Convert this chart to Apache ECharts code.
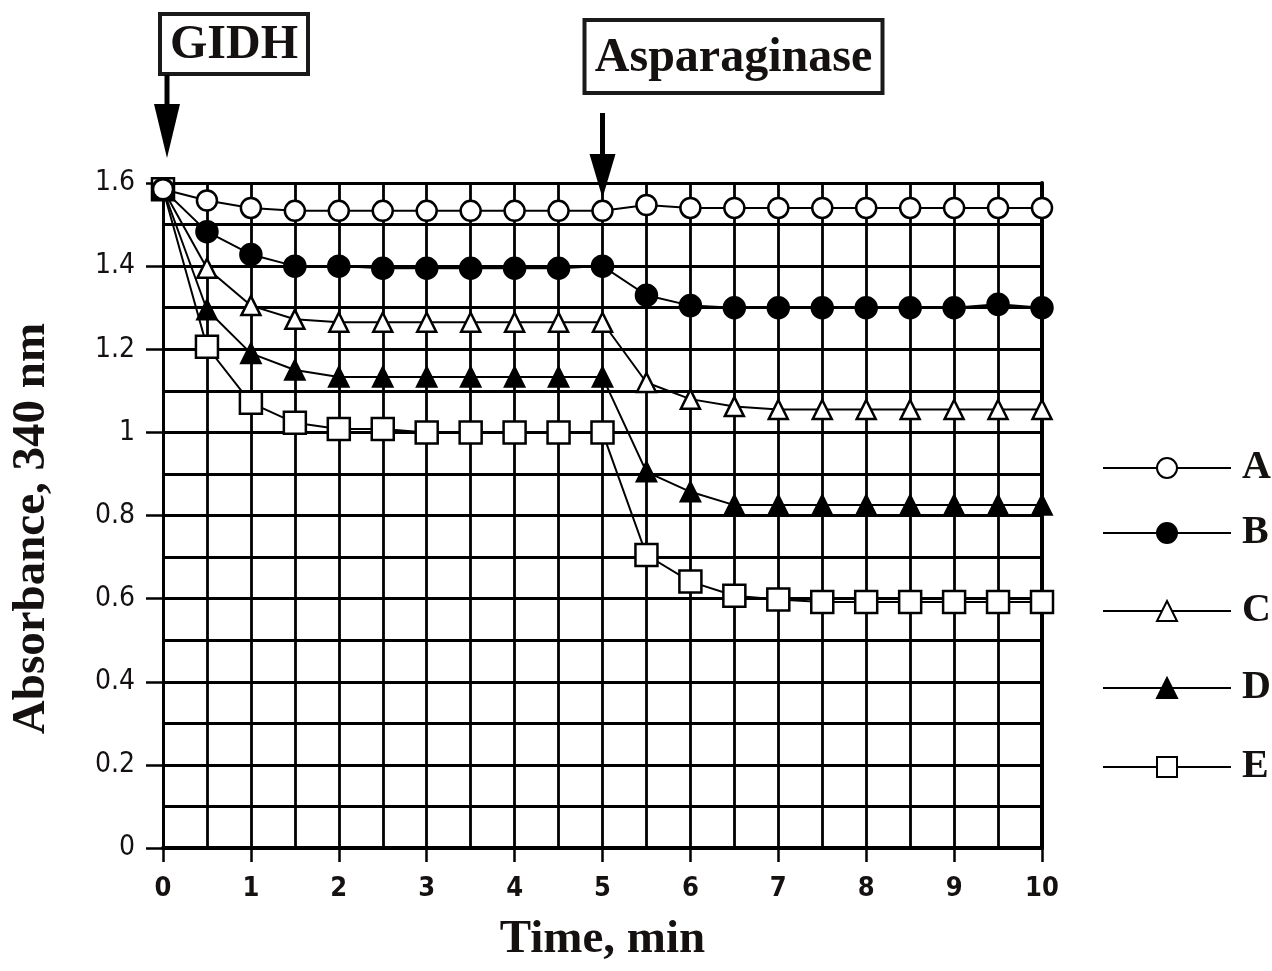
<!DOCTYPE html>
<html>
<head>
<meta charset="utf-8">
<script src="https://cdn.jsdelivr.net/npm/echarts@6/dist/echarts.min.js"></script>
<style>
  html, body { margin: 0; padding: 0; background: #fff; }
  #chart { width: 1272px; height: 971px; }
</style>
</head>
<body>
<div id="chart"></div>
<script>
// time points (min)
const time = [0, 0.5, 1, 1.5, 2, 2.5, 3, 3.5, 4, 4.5, 5, 5.5, 6, 6.5, 7, 7.5, 8, 8.5, 9, 9.5, 10];

// absorbance at 340 nm
const seriesA = [1.585, 1.558, 1.54, 1.533, 1.533, 1.533, 1.533, 1.533, 1.533, 1.533, 1.533, 1.547, 1.54, 1.54, 1.54, 1.54, 1.54, 1.54, 1.54, 1.54, 1.54];
const seriesB = [1.585, 1.483, 1.428, 1.4, 1.4, 1.395, 1.395, 1.395, 1.395, 1.395, 1.4, 1.33, 1.305, 1.3, 1.3, 1.3, 1.3, 1.3, 1.3, 1.308, 1.3];
const seriesC = [1.585, 1.395, 1.305, 1.272, 1.265, 1.265, 1.265, 1.265, 1.265, 1.265, 1.265, 1.12, 1.08, 1.062, 1.055, 1.055, 1.055, 1.055, 1.055, 1.055, 1.055];
const seriesD = [1.585, 1.295, 1.19, 1.15, 1.133, 1.133, 1.133, 1.133, 1.133, 1.133, 1.133, 0.905, 0.857, 0.825, 0.825, 0.825, 0.825, 0.825, 0.825, 0.825, 0.825];
const seriesE = [1.585, 1.206, 1.071, 1.023, 1.008, 1.008, 1.0, 1.0, 1.0, 1.0, 1.0, 0.705, 0.641, 0.607, 0.598, 0.592, 0.592, 0.592, 0.592, 0.592, 0.592];

const seriesNames = ["A", "B", "C", "D", "E"];
const addTimes = [0, 5]; // GIDH, Asparaginase

const serif = "'Liberation Serif', 'Times New Roman', serif";
const narrow = "'DejaVu Sans Condensed', 'Liberation Sans Narrow', 'DejaVu Sans', sans-serif";
const ink = "#141110";
const gridLine = { color: "#000", width: 2.8 };

const chart = echarts.init(document.getElementById("chart"));

const pairs = (ys) => time.map((t, i) => [t, ys[i]]);

const styles = {
  A: { symbol: "circle", size: 20, fill: "#fff", z: 7 },
  B: { symbol: "circle", size: 21, fill: "#000", z: 6 },
  C: { symbol: "triangle", size: 19, fill: "#fff", z: 5 },
  D: { symbol: "triangle", size: 19, fill: "#000", z: 4 },
  E: { symbol: "rect", size: 22, fill: "#fff", z: 3 },
};
const values = { A: seriesA, B: seriesB, C: seriesC, D: seriesD, E: seriesE };

// legend rows on the right (centre y of each row)
const legendRows = [462, 527, 605, 682, 761];

chart.setOption({
  animation: false,
  backgroundColor: "#fff",
  grid: { left: 162, right: 230, top: 183, bottom: 123 },
  xAxis: {
    type: "value",
    min: 0,
    max: 10,
    interval: 1,
    name: "Time, min",
    nameLocation: "middle",
    nameGap: 68,
    nameTextStyle: { fontFamily: serif, fontWeight: "bold", fontSize: 47, color: ink },
    axisLine: { show: true, onZero: false, lineStyle: { color: "#000", width: 4 } },
    axisTick: { show: true, length: 14, lineStyle: { color: "#000", width: 2.5 } },
    axisLabel: { margin: 27, fontFamily: narrow, fontWeight: "bold", fontSize: 27, color: ink },
    splitLine: { show: true, lineStyle: gridLine },
    minorTick: { show: false, splitNumber: 2 },
    minorSplitLine: { show: true, lineStyle: gridLine },
  },
  yAxis: [
    {
      type: "value",
      min: 0,
      max: 1.6,
      interval: 0.2,
      name: "Absorbance, 340 nm",
      nameLocation: "middle",
      nameGap: 108,
      nameTextStyle: {
        fontFamily: serif, fontWeight: "bold", fontSize: 47, color: ink,
        padding: [0, 26, 0, 0],
      },
      axisLine: { show: true, lineStyle: { color: "#000", width: 2.8 } },
      axisTick: { show: true, length: 17, lineStyle: { color: "#000", width: 2.5 } },
      axisLabel: { margin: 28, fontFamily: narrow, fontSize: 28, color: ink },
      splitLine: { show: true, lineStyle: gridLine },
      minorTick: { show: false, splitNumber: 2 },
      minorSplitLine: { show: true, lineStyle: gridLine },
    },
    {
      type: "value",
      min: 0,
      max: 1.6,
      position: "right",
      axisLine: { show: true, lineStyle: { color: "#000", width: 4 } },
      axisTick: { show: false },
      axisLabel: { show: false },
      splitLine: { show: false },
    },
  ],
  legend: seriesNames.map((n, i) => ({
    data: [n],
    left: 1097,
    top: legendRows[i] - 19,
    itemWidth: 128,
    itemHeight: 25,
    selectedMode: false,
    textStyle: {
      fontFamily: serif,
      fontWeight: "bold",
      fontSize: 40,
      lineHeight: 38,
      color: ink,
      padding: [0, 0, 0, 6],
    },
  })),
  series: seriesNames.map((n) => ({
    name: n,
    type: "line",
    data: pairs(values[n]),
    z: styles[n].z,
    symbol: styles[n].symbol,
    symbolSize: styles[n].size,
    showAllSymbol: true,
    lineStyle: { color: "#000", width: 2 },
    itemStyle: { color: styles[n].fill, borderColor: "#000", borderWidth: 2.5, opacity: 1 },
    emphasis: { disabled: true },
  })),
});

// annotation boxes and arrows, placed from the axis scale
const arrowX = addTimes.map((t) => chart.convertToPixel({ xAxisIndex: 0 }, t));
const arrow = (x, y0, y1, y2) => [
  { type: "rect", shape: { x: x - 2.5, y: y0, width: 5, height: y1 - y0 + 2 }, style: { fill: "#000" } },
  { type: "polygon", shape: { points: [[x - 13, y1], [x + 13, y1], [x, y2]] }, style: { fill: "#000" } },
];
const labelBox = (x, y, w, h, text) => [
  { type: "rect", shape: { x: x, y: y, width: w, height: h }, style: { fill: "#fff", stroke: "#1a1a1a", lineWidth: 4 } },
  {
    type: "text",
    x: x + w / 2,
    y: y + h / 2 + 2,
    style: {
      text: text,
      align: "center",
      verticalAlign: "middle",
      fontFamily: serif,
      fontWeight: "bold",
      fontSize: 48,
      fill: ink,
    },
  },
];

chart.setOption({
  graphic: [
    ...labelBox(arrowX[0] - 3, 14, 148, 60, "GIDH"),
    ...arrow(arrowX[0] + 4, 75, 104, 158),
    ...labelBox(arrowX[1] - 18, 20, 298, 73, "Asparaginase"),
    ...arrow(arrowX[1], 113, 154, 198),
  ],
});
</script>
</body>
</html>
